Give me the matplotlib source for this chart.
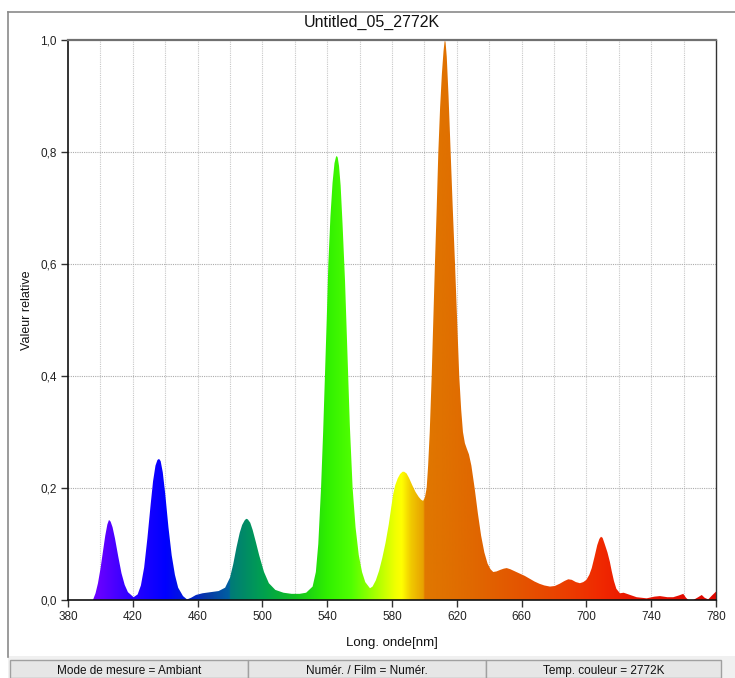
import numpy as np
import matplotlib
matplotlib.use("Agg")
import matplotlib.pyplot as plt
from matplotlib.colors import LinearSegmentedColormap
from matplotlib.patches import Rectangle
from matplotlib.lines import Line2D

# ---------------- data ----------------
wavelength = [395.4, 397, 398.5, 400, 401.5, 403, 404.3, 405.3, 406.3, 407.5, 409, 411, 413,
              415, 417, 420.5,
              423, 425, 427, 429, 431, 432.5, 434, 435.2, 436.2, 437.2, 438.5, 440, 442, 444,
              446, 448, 451, 453.5,
              456, 459, 463, 468, 473, 477, 480, 482, 484, 486, 487.5, 489, 490, 491, 492.5,
              494, 496, 498, 501, 504, 508, 513, 518, 523, 527, 531, 533, 534.5, 536.2,
              537.5, 538.6, 539.7, 540.7, 542, 543.3, 544.5, 545.4, 545.9, 546.5, 547.3,
              548.3, 549.5, 551, 552.5, 554, 555.7, 557.5, 559.5, 561.5, 563.5, 566.4, 568,
              570, 572, 574, 576, 578, 579.5, 580.8, 582, 583.5, 585, 586.5, 587.5, 589,
              590.5, 592.5, 594.5, 596.5, 598, 599.2, 600.3, 601.4, 602.3, 603.3, 604.5,
              605.5, 606.5, 607.6, 608.6, 609.7, 610.8, 611.8, 612.4, 612.7, 613.1, 613.8,
              614.9, 616.2, 617.5, 618.9, 620.2, 621.5, 622.7, 623.8, 625, 626.2, 627.5,
              629, 631, 633, 635, 637, 639, 640.8, 642.5, 644.5, 647, 649, 650.8, 653, 656,
              659, 662, 665, 668, 671, 674, 677.5, 680.5, 683.5, 686.5, 688.8, 691, 693.5,
              696, 698.1, 700, 701.8, 703.3, 705, 706.7, 708, 709, 710, 711.3, 713, 714.5,
              715.6, 717, 718.5, 720.7, 723, 727, 731, 737.2, 742, 745.4, 750, 753.6, 757,
              759.8, 761.5, 763, 766, 769, 771.2, 773, 775.2, 777.5, 780]
intensity = [0.0, 0.012, 0.03, 0.055, 0.085, 0.115, 0.135, 0.143, 0.14, 0.13, 0.11, 0.078,
             0.048, 0.027, 0.014, 0.005,
             0.01, 0.026, 0.058, 0.11, 0.17, 0.212, 0.24, 0.25, 0.252, 0.248, 0.228, 0.19,
             0.13, 0.08, 0.045, 0.022, 0.007, 0.001,
             0.004, 0.009, 0.012, 0.014, 0.016, 0.022, 0.04, 0.064, 0.094, 0.12, 0.134,
             0.142, 0.145, 0.144, 0.138, 0.125, 0.103, 0.08, 0.05, 0.03, 0.018, 0.013, 0.011,
             0.011, 0.013, 0.024, 0.05, 0.1, 0.2, 0.3, 0.4, 0.5, 0.6, 0.685, 0.745, 0.78,
             0.791, 0.793, 0.79, 0.775, 0.74, 0.67, 0.57, 0.44, 0.31, 0.2, 0.13, 0.08, 0.05,
             0.032, 0.021, 0.024, 0.035, 0.052, 0.075, 0.102, 0.135, 0.165, 0.19, 0.205, 0.217,
             0.225, 0.229, 0.229, 0.226, 0.218, 0.205, 0.193, 0.184, 0.179, 0.177, 0.183, 0.2,
             0.24, 0.3, 0.4, 0.5, 0.6, 0.7, 0.8, 0.88, 0.94, 0.98, 0.996, 1.0, 0.995, 0.97,
             0.9, 0.8, 0.7, 0.6, 0.5, 0.4, 0.34, 0.3, 0.28, 0.27, 0.26, 0.24, 0.2, 0.155,
             0.115, 0.085, 0.065, 0.055, 0.05, 0.051, 0.054, 0.056, 0.057, 0.055, 0.051,
             0.047, 0.043, 0.038, 0.033, 0.029, 0.026, 0.024, 0.025, 0.029, 0.034, 0.037,
             0.036, 0.032, 0.03, 0.032, 0.036, 0.045, 0.057, 0.077, 0.098, 0.109, 0.113,
             0.111, 0.1, 0.085, 0.068, 0.052, 0.034, 0.02, 0.012, 0.013, 0.009, 0.005,
             0.003, 0.006, 0.007, 0.005, 0.005, 0.008, 0.011, 0.004, 0.0, 0.0, 0.005, 0.009,
             0.004, 0.001, 0.008, 0.015]

x_ticks = [380, 420, 460, 500, 540, 580, 620, 660, 700, 740, 780]
y_ticks = [0.0, 0.2, 0.4, 0.6, 0.8, 1.0]
y_tick_labels = ["0,0", "0,2", "0,4", "0,6", "0,8", "1,0"]
title = "Untitled_05_2772K"
x_label = "Long. onde[nm]"
y_label = "Valeur relative"
status_texts = ["Mode de mesure = Ambiant", "Numér. / Film = Numér.", "Temp. couleur = 2772K"]

# spectral colour stops (wavelength, colour)
color_stops = [(380, "#7a00ff"), (400, "#6400ff"), (420, "#2800ff"), (440, "#0000ff"),
               (455, "#0020d0"), (465, "#0838a8"), (479.6, "#0060a0"), (480, "#007a78"),
               (500, "#00a050"), (520, "#10c020"), (540, "#30f000"), (555, "#50ff00"),
               (570, "#a8ff00"), (582, "#f0ff00"), (586, "#ffff00"), (592, "#f0c800"),
               (599.6, "#e8a000"), (600, "#e07800"), (630, "#e06800"), (660, "#e45400"),
               (690, "#ec3c00"), (710, "#f02800"), (730, "#e81400"), (780, "#e00800")]

# ---------------- figure ----------------
narrow = ["Liberation Sans Narrow", "Liberation Sans", "DejaVu Sans"]
plt.rcParams["font.family"] = ["Liberation Sans", "DejaVu Sans"]

fig = plt.figure(figsize=(7.35, 6.78), dpi=100)
W, H = 735, 678
ax = fig.add_axes([68 / W, 1 - 600 / H, (716 - 68) / W, (600 - 40) / H])

xmin, xmax = 380, 780
ax.set_xlim(xmin, xmax)
ax.set_ylim(0, 1.0)

# grid behind
for gx in range(400, 780, 20):
    ax.axvline(gx, color="#c8c8c8", lw=0.8, ls=(0, (1, 1)), zorder=0)
for gy in [0.2, 0.4, 0.6, 0.8]:
    ax.axhline(gy, color="#acacac", lw=0.8, ls=(0, (1, 1)), zorder=0)

# gradient fill
cmap = LinearSegmentedColormap.from_list(
    "spec", [((w - xmin) / (xmax - xmin), c) for w, c in color_stops], N=1024)
poly = ax.fill_between(wavelength, 0, intensity, color="none", lw=0, zorder=1)
grad = np.linspace(0, 1, 1600).reshape(1, -1)
im = ax.imshow(grad, cmap=cmap, aspect="auto", extent=[xmin, xmax, 0, 1.0],
               origin="lower", zorder=2, interpolation="bilinear")
clip = poly.get_paths()[0]
im.set_clip_path(clip, transform=ax.transData)
ax.set_xlim(xmin, xmax)
ax.set_ylim(0, 1.0)

# axes styling
ax.set_xticks(x_ticks)
ax.set_xticklabels([str(t) for t in x_ticks], family=narrow, fontsize=8.5, color="#222222")
ax.set_yticks(y_ticks)
ax.set_yticklabels(y_tick_labels, family=narrow, fontsize=8.5, color="#222222")
ax.tick_params(axis="both", direction="out", length=5, width=1, color="#333333", pad=3)
for s in ["left", "bottom"]:
    ax.spines[s].set_color("#111111")
    ax.spines[s].set_linewidth(1.2)
ax.spines["right"].set_color("#333333")
ax.spines["right"].set_linewidth(1.0)
ax.spines["top"].set_color("#707070")
ax.spines["top"].set_linewidth(1.6)

fig.text(372 / W, 1 - 22 / H, title, ha="center", va="center", fontsize=11.5,
         family=narrow, color="#111111")
fig.text(392 / W, 1 - 643 / H, x_label, ha="center", va="center", fontsize=9.5,
         family=narrow, color="#111111")
fig.text(27 / W, 1 - 310 / H, y_label, ha="center", va="center", rotation=90,
         fontsize=9, color="#111111")

# outer frame
fig.add_artist(Line2D([8 / W, 8 / W], [1 - 12 / H, 1 - 657 / H], color="#8a8a8a", lw=1.2))
fig.add_artist(Line2D([8 / W, 1.0], [1 - 12 / H, 1 - 12 / H], color="#8a8a8a", lw=1.2))

# status bar
fig.add_artist(Rectangle((8 / W, 0), 1 - 8 / W, (678 - 656) / H, transform=fig.transFigure,
                         facecolor="#f0f0f0", edgecolor="none"))
boxes = [(10, 248), (248, 486), (486, 721)]
for (bx0, bx1), txt in zip(boxes, status_texts):
    fig.add_artist(Rectangle((bx0 / W, 0), (bx1 - bx0) / W, (678 - 660) / H,
                             transform=fig.transFigure, facecolor="#e6e6e6",
                             edgecolor="#a0a0a0", lw=1.0))
    fig.text((bx0 + bx1) / 2 / W, 1 - 671 / H, txt, ha="center", va="center",
             fontsize=8.5, family=narrow, color="#111111")

fig.savefig("out.png", dpi=100, facecolor="white")
